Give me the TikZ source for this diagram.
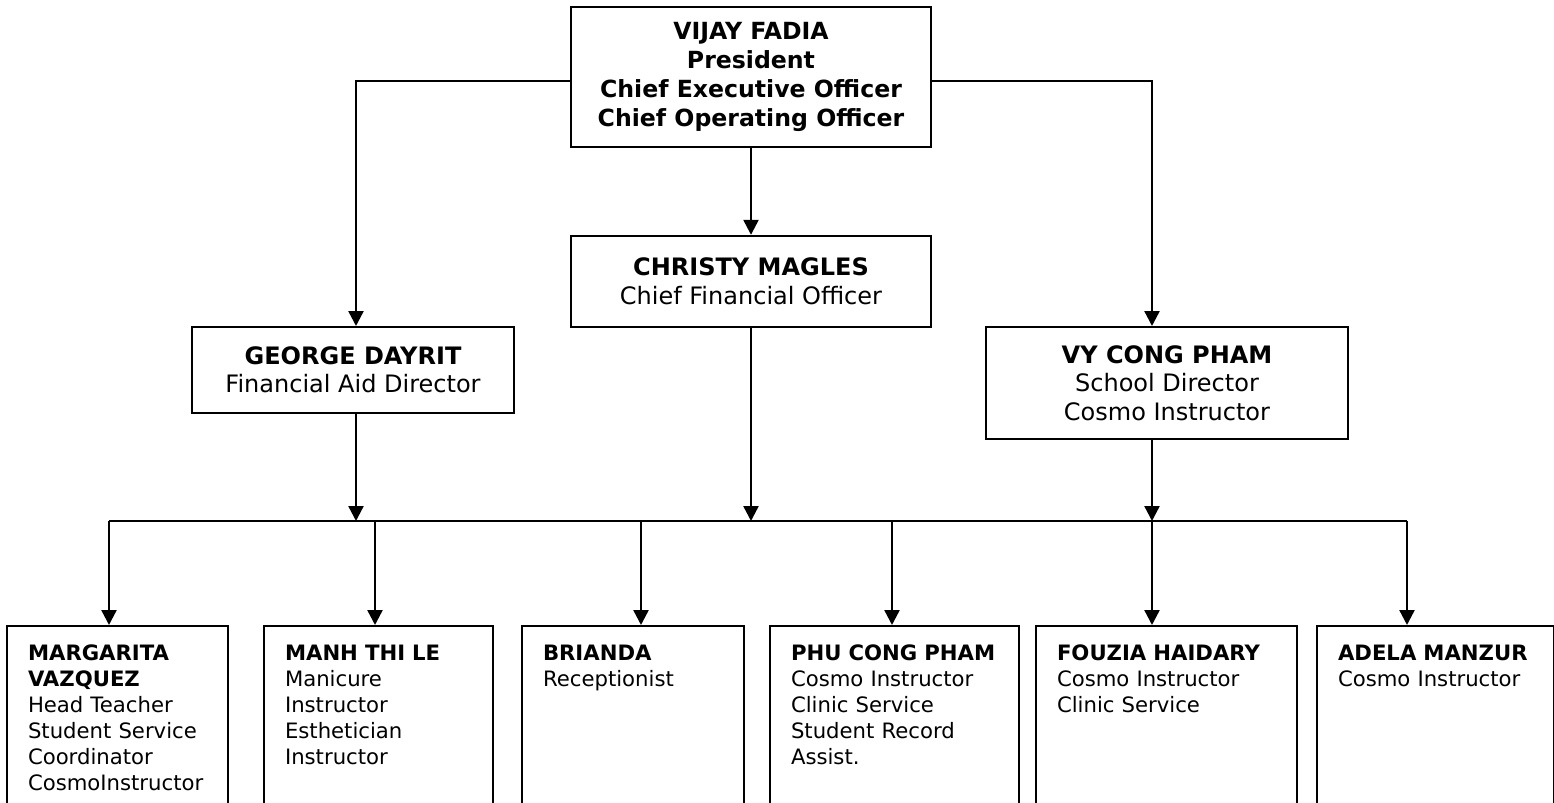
\documentclass[tikz,border=0pt]{standalone}
\usepackage{fontspec}
\setmainfont{DejaVu Sans}
\usetikzlibrary{arrows.meta,positioning}

\begin{document}
\begin{tikzpicture}[x=0.5pt, y=-0.5pt,
  >={Triangle[width=7.5pt,length=7.5pt]}, line width=1.2pt,
  every node/.style={font=\fontsize{12}{14.2}\selectfont},
  head/.style={rectangle, draw, line width=1pt, align=center, minimum width=180pt, minimum height=70pt, font=\fontsize{11.8}{14.5}\selectfont\bfseries},
  mgr/.style={rectangle, draw, line width=1pt, align=center},
  staff/.style={rectangle, draw, line width=1pt, anchor=north west, align=left, text width=#1, inner xsep=10.5pt, inner ysep=9.5pt, text depth=100pt, font=\fontsize{10.6}{13}\selectfont}
]
\useasboundingbox (0,0) rectangle (1554,803);
\clip (0,0) rectangle (1554,803);

\node[head] (pres) at (751,77) {VIJAY FADIA\\President\\Chief Executive Officer\\Chief Operating Officer};
\node[mgr, minimum width=180pt, minimum height=45.5pt] (cfo) at (751,281.3) {\textbf{CHRISTY MAGLES}\\Chief Financial Officer};
\node[mgr, minimum width=161pt, minimum height=43pt] (fad) at (353,370) {\textbf{GEORGE DAYRIT}\\Financial Aid Director};
\node[mgr, minimum width=181pt, minimum height=56pt] (sdir) at (1167,383) {\textbf{VY CONG PHAM}\\School Director\\Cosmo Instructor};

% staff row
\node[staff=89.5pt] (marg) at (6,625) {\textbf{MARGARITA}\\\textbf{VAZQUEZ}\\Head Teacher\\Student Service\\Coordinator\\CosmoInstructor};
\node[staff=93.5pt] (manh) at (263,625) {\textbf{MANH THI LE}\\Manicure\\Instructor\\Esthetician\\Instructor};
\node[staff=90pt] (bri) at (521,625) {\textbf{BRIANDA}\\Receptionist};
\node[staff=103.5pt] (phu) at (769,625) {\textbf{PHU CONG PHAM}\\Cosmo Instructor\\Clinic Service\\Student Record\\Assist.};
\node[staff=109.5pt] (fou) at (1035,625) {\textbf{FOUZIA HAIDARY}\\Cosmo Instructor\\Clinic Service};
\node[staff=97.5pt] (ade) at (1316,625) {\textbf{ADELA MANZUR}\\Cosmo Instructor};

% bar above the staff row
\coordinate (d1) at (109,521);
\coordinate (d2) at (375,521);
\coordinate (d3) at (641,521);
\coordinate (d4) at (892,521);
\coordinate (d5) at (1152,521);
\coordinate (d6) at (1407,521);
\coordinate (sx) at (1152,439);
\coordinate (fx) at (356,413);

\draw[->] ([yshift=-2pt]pres.west) -| (fx |- fad.north);
\draw[->] ([yshift=-2pt]pres.east) -| (sx |- sdir.north);
\draw[->] (pres.south) -- (cfo.north);
\draw[->] (fx) -- (fx |- d1);
\draw[->] (cfo.south) -- (cfo.south |- d1);
\draw[->] (sx) -- (d5);
\draw (d1) -- (d6);
\draw[->] (d1) -- (d1 |- marg.north);
\draw[->] (d2) -- (d2 |- manh.north);
\draw[->] (d3) -- (d3 |- bri.north);
\draw[->] (d4) -- (d4 |- phu.north);
\draw[->] (d5) -- (d5 |- fou.north);
\draw[->] (d6) -- (d6 |- ade.north);
\end{tikzpicture}
\end{document}
